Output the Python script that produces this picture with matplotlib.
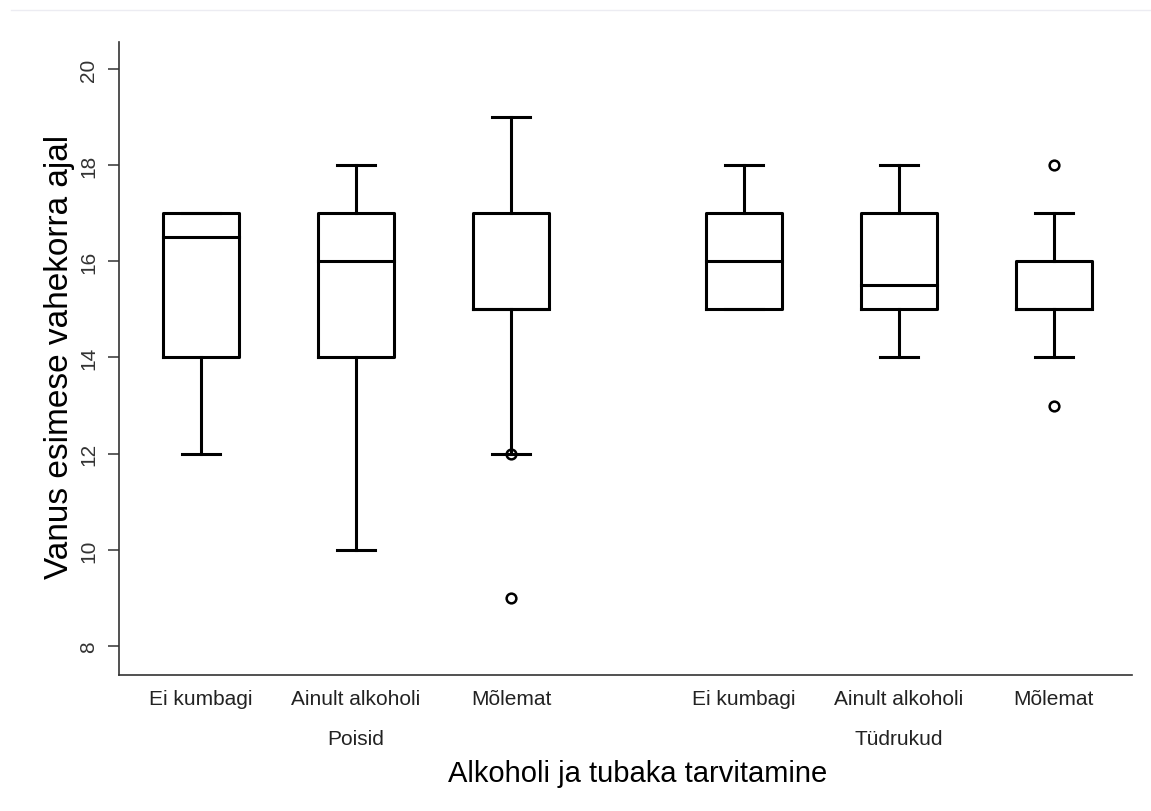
import matplotlib
matplotlib.use("Agg")
import matplotlib.pyplot as plt
from matplotlib.lines import Line2D

# Data (box statistics)
categories = ["Ei kumbagi", "Ainult alkoholi", "Mõlemat",
              "Ei kumbagi", "Ainult alkoholi", "Mõlemat"]
groups = ["Poisid", "Tüdrukud"]
whislo = [12, 10, 12, 15, 14, 14]
q1 = [14, 14, 15, 15, 15, 15]
med = [16.5, 16, 15, 16, 15.5, 15]
q3 = [17, 17, 17, 17, 17, 16]
whishi = [17, 18, 19, 18, 18, 17]
fliers = [[], [], [12, 9], [], [], [18, 13]]
positions = [1, 2, 3, 4.5, 5.5, 6.5]
group_positions = [2, 5.5]
yticks = [8, 10, 12, 14, 16, 18, 20]

plt.rcParams['font.family'] = ['Liberation Sans', 'DejaVu Sans']

W, H = 1151, 812
fig = plt.figure(figsize=(W / 100, H / 100), dpi=100)
ax_left, ax_right, ax_top, ax_bottom = 119, 1132, 43, 676
ax = fig.add_axes([ax_left / W, 1 - ax_bottom / H, (ax_right - ax_left) / W,
                   (ax_bottom - ax_top) / H])

stats = []
for i in range(len(categories)):
    stats.append(dict(label=categories[i], whislo=whislo[i], q1=q1[i], med=med[i],
                      q3=q3[i], whishi=whishi[i], fliers=fliers[i]))

lw = 2.2
ax.bxp(stats, positions=positions, widths=0.49, showfliers=True, patch_artist=False,
       boxprops=dict(color='black', linewidth=lw),
       medianprops=dict(color='black', linewidth=lw, solid_capstyle='projecting'),
       whiskerprops=dict(color='black', linewidth=lw),
       capprops=dict(color='black', linewidth=lw),
       capwidths=0.245,
       flierprops=dict(marker='o', markersize=7, markerfacecolor='none',
                       markeredgecolor='black', markeredgewidth=1.8))

ax.set_xlim(0.471, 7.006)
ax.set_ylim(7.397, 20.56)
ax.set_yticks(yticks)
ax.set_yticklabels([str(t) for t in yticks], rotation=90, va='center',
                   fontsize=15, color='#333333')
ax.set_xticks(positions)
ax.set_xticklabels(categories, fontsize=15, color='#222222')
ax.tick_params(axis='x', length=0, pad=10)
ax.tick_params(axis='y', length=8, width=1.1, color='#333333', pad=7)

for s in ['top', 'right']:
    ax.spines[s].set_visible(False)
for s in ['left', 'bottom']:
    ax.spines[s].set_linewidth(1.2)
    ax.spines[s].set_color('#333333')

# group labels
trans = ax.get_xaxis_transform()
gy = -(740 - ax_bottom) / (ax_bottom - ax_top)
for gp, gl in zip(group_positions, groups):
    ax.text(gp, gy, gl, transform=trans, ha='center', va='center', fontsize=15,
            color='#222222')

fig.text(638 / W, 1 - 774 / H, "Alkoholi ja tubaka tarvitamine", ha='center',
         va='center', fontsize=21, color='black')
fig.text(60 / W, 1 - 357 / H, "Vanus esimese vahekorra ajal", ha='center',
         va='center', rotation=90, fontsize=24, color='black')

# faint border line at top
fig.add_artist(Line2D([11 / W, 1.0], [1 - 11 / H, 1 - 11 / H], color='#ececf2',
                      linewidth=1.0, transform=fig.transFigure))

fig.savefig("out.png", dpi=100)
